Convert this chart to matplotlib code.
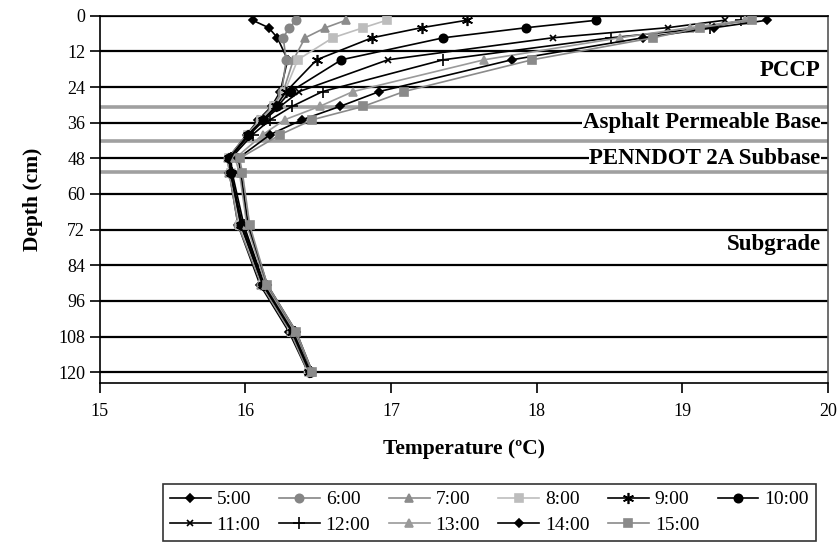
import numpy as np
import matplotlib
matplotlib.use('Agg')
import matplotlib.pyplot as plt

plt.rcParams['font.family'] = ['Liberation Serif', 'DejaVu Serif']

# profundidades de los sensores (cm)
profundidad = [1.5, 4, 7.4, 14.8, 25.5, 30.5, 35, 40, 48, 53, 70.5, 90.5, 106.5, 120]

# temperaturas (°C) para cada hora
horas = ['5:00', '6:00', '7:00', '8:00', '9:00', '10:00',
         '11:00', '12:00', '13:00', '14:00', '15:00']
t_0500 = [16.05, 16.16, 16.22, 16.29, 16.24, 16.18, 16.09, 16.01, 15.88, 15.89, 15.95, 16.10, 16.30, 16.43]
t_0600 = [16.35, 16.30, 16.26, 16.28, 16.25, 16.19, 16.10, 16.01, 15.88, 15.89, 15.95, 16.11, 16.31, 16.43]
t_0700 = [16.69, 16.55, 16.41, 16.33, 16.26, 16.19, 16.10, 16.02, 15.88, 15.89, 15.96, 16.11, 16.31, 16.44]
t_0800 = [16.97, 16.81, 16.60, 16.36, 16.27, 16.20, 16.11, 16.02, 15.89, 15.90, 15.96, 16.12, 16.32, 16.44]
t_0900 = [17.52, 17.21, 16.87, 16.49, 16.28, 16.21, 16.12, 16.02, 15.89, 15.90, 15.97, 16.12, 16.32, 16.44]
t_1000 = [18.41, 17.93, 17.36, 16.66, 16.31, 16.22, 16.12, 16.02, 15.89, 15.90, 15.97, 16.12, 16.33, 16.45]
t_1100 = [19.29, 18.90, 18.11, 16.98, 16.37, 16.24, 16.13, 16.03, 15.89, 15.90, 15.98, 16.13, 16.33, 16.45]
t_1200 = [19.40, 19.19, 18.51, 17.36, 16.53, 16.32, 16.17, 16.05, 15.90, 15.91, 15.99, 16.13, 16.34, 16.45]
t_1300 = [19.43, 19.05, 18.57, 17.64, 16.74, 16.51, 16.27, 16.12, 15.93, 15.96, 16.01, 16.14, 16.34, 16.46]
t_1400 = [19.58, 19.22, 18.73, 17.83, 16.92, 16.65, 16.39, 16.17, 15.95, 15.97, 16.02, 16.15, 16.35, 16.46]
t_1500 = [19.48, 19.12, 18.80, 17.97, 17.09, 16.81, 16.46, 16.24, 15.96, 15.98, 16.03, 16.15, 16.35, 16.46]
temperaturas = [t_0500, t_0600, t_0700, t_0800, t_0900, t_1000,
                t_1100, t_1200, t_1300, t_1400, t_1500]

# capas del pavimento
capas = ['PCCP', 'Asphalt Permeable Base', 'PENNDOT 2A Subbase', 'Subgrade']
capas_prof = [18.5, 36, 48, 77]
limites = [30.6, 42.1, 52.6]

# estilo de cada serie (color, marcador, tamaño)
estilos = [
    ('black', 'D', 4.5),
    ('#858585', 'o', 6),
    ('#8c8c8c', '^', 6),
    ('#bdbdbd', 's', 5.5),
    ('black', (6, 2, 0), 8),
    ('black', 'o', 6),
    ('black', 'x', 4.5),
    ('black', '+', 8),
    ('#9a9a9a', '^', 6),
    ('black', 'D', 4.5),
    ('#8a8a8a', 's', 5.5),
]

fig = plt.figure(figsize=(8.38, 5.45), dpi=100)
ax = fig.add_axes([0.119, 0.297, 0.869, 0.674])

# lineas horizontales de la grilla y limites de capas
for y in range(0, 121, 12):
    ax.axhline(y, color='black', lw=1.6, zorder=1)
for y in limites:
    ax.axhline(y, color='#a0a0a0', lw=2.6, zorder=1)

lineas = []
for nombre, temp, (col, mk, ms) in zip(horas, temperaturas, estilos):
    l, = ax.plot(temp, profundidad, color=col, marker=mk, markersize=ms,
                 markeredgewidth=1.2, lw=1.2, label=nombre, zorder=3)
    lineas.append(l)

# etiquetas de las capas
for txt, y in zip(capas, capas_prof):
    ax.text(19.95, y, txt, ha='right', va='center', fontsize=16.5, fontweight='bold',
            zorder=4, bbox=dict(facecolor='white', edgecolor='none', pad=0.5))

ax.set_xlim(15, 20)
ax.set_ylim(123.7, 0)
ax.set_yticks(range(0, 121, 12))
ax.set_xticks([15, 16, 17, 18, 19, 20])
ax.tick_params(axis='both', labelsize=13, direction='out', length=7, width=1.2)
ax.tick_params(axis='x', pad=7)
for s in ax.spines.values():
    s.set_linewidth(1.2)
ax.spines['right'].set_color('#555555')

ax.set_xlabel('Temperature (ºC)', fontsize=15.5, fontweight='bold', labelpad=14)
ax.set_ylabel('Depth (cm)', fontsize=15.5, fontweight='bold', labelpad=11)

# leyenda en dos filas (matplotlib llena por columnas)
orden = [0, 6, 1, 7, 2, 8, 3, 9, 4, 10, 5]
leg = fig.legend([lineas[i] for i in orden], [horas[i] for i in orden],
                 loc='lower center', bbox_to_anchor=(0.584, 0.008), ncol=6,
                 fontsize=14, frameon=True, fancybox=False, edgecolor='black',
                 handlelength=2.1, handletextpad=0.3, columnspacing=0.95,
                 labelspacing=0.4, borderpad=0.35, borderaxespad=0)
leg.get_frame().set_linewidth(1.2)

fig.savefig('out.png', dpi=100)
